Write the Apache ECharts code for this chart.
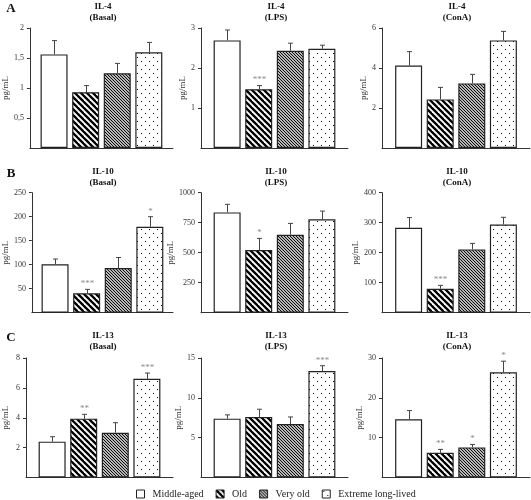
<!DOCTYPE html>
<html><head><meta charset="utf-8">
<script src="https://cdn.jsdelivr.net/npm/echarts@6/dist/echarts.min.js"></script>
<style>html,body{margin:0;padding:0;background:#fff}#c{width:531px;height:500px}</style>
</head><body><div id="c"></div>
<script>
// ---- data ----
const groups = ['Middle-aged', 'Old', 'Very old', 'Extreme long-lived'];
const panelLetters = ['A', 'B', 'C'];
const cytokines = ['IL-4', 'IL-4', 'IL-4', 'IL-10', 'IL-10', 'IL-10', 'IL-13', 'IL-13', 'IL-13'];
const conditions = ['(Basal)', '(LPS)', '(ConA)', '(Basal)', '(LPS)', '(ConA)', '(Basal)', '(LPS)', '(ConA)'];
const yMax = [2, 3, 6, 250, 1000, 400, 8, 15, 30];
const yInterval = [0.5, 1, 2, 50, 250, 100, 2, 5, 10];
const means = [
  [1.56, 0.93, 1.245, 1.595],
  [2.69, 1.47, 2.43, 2.48],
  [4.12, 2.43, 3.23, 5.38],
  [100.7, 40.3, 93, 179],
  [836, 522, 650, 778],
  [283, 80, 211, 294],
  [2.40, 3.94, 3.0, 6.61],
  [7.39, 7.6, 6.72, 13.36],
  [14.6, 6.2, 7.56, 26.4]
];
const errors = [
  [0.23, 0.11, 0.165, 0.165],
  [0.26, 0.09, 0.19, 0.09],
  [0.70, 0.60, 0.45, 0.45],
  [11.1, 8.3, 22, 21],
  [67, 97, 94, 69],
  [34, 11, 20, 24],
  [0.33, 0.29, 0.67, 0.38],
  [0.47, 0.97, 0.88, 0.67],
  [2.2, 0.86, 0.74, 2.8]
];
const signif = [
  ['', '', '', ''],
  ['', '***', '', ''],
  ['', '', '', ''],
  ['', '***', '', '*'],
  ['', '*', '', ''],
  ['', '***', '', ''],
  ['', '**', '', '***'],
  ['', '', '', '***'],
  ['', '**', '*', '*']
];

// ---- layout / style ----
const FONT = '"Liberation Serif", "DejaVu Serif", serif';
const colLeft = [26, 201, 382], colWidth = [147, 147, 148];
const rowTop = [28, 192.7, 358], rowH = [120, 120, 119.5];
const titleCx = [103, 276, 457], titleCy = [7, 172, 336];
const nameGaps = [15.5, 7, 14];
const BAR_W = 27, GAP_PCT = 0.17, STEP = BAR_W * (1 + GAP_PCT);

function makePattern(kind) {
  if (kind === 0) return '#ffffff';
  const c = document.createElement('canvas');
  let n;
  if (kind === 1) n = 6; else if (kind === 2) n = 3; else n = 8;
  c.width = n; c.height = n;
  const g = c.getContext('2d');
  g.fillStyle = '#fff'; g.fillRect(0, 0, n, n);
  if (kind === 1 || kind === 2) {
    g.strokeStyle = '#000';
    g.lineWidth = kind === 1 ? 2.3 : 1.1;
    for (const o of [-n, 0, n]) {
      g.beginPath(); g.moveTo(o - 1, -1); g.lineTo(o + n + 1, n + 1); g.stroke();
    }
  } else {
    g.fillStyle = '#000';
    g.fillRect(1, 1, 1, 1);
    g.fillRect(5, 5, 1, 1);
  }
  return { image: c, repeat: 'repeat' };
}
const fills = [0, 1, 2, 3].map(makePattern);

const grids = [], xAxes = [], yAxes = [], series = [], graphics = [];
for (let p = 0; p < 9; p++) {
  const row = Math.floor(p / 3), col = p % 3;
  grids.push({ left: colLeft[col], top: rowTop[row], width: colWidth[col], height: rowH[row] });
  xAxes.push({
    type: 'category', gridIndex: p, data: [cytokines[p] + ' ' + conditions[p]],
    axisLine: { lineStyle: { color: '#333', width: 1 } },
    axisTick: { show: false }, axisLabel: { show: false }
  });
  yAxes.push({
    type: 'value', gridIndex: p, min: 0, max: yMax[p], interval: yInterval[p],
    name: 'pg/mL', nameLocation: 'middle', nameGap: nameGaps[col],
    nameTextStyle: { fontFamily: FONT, fontSize: 9, color: '#333' },
    axisLine: { show: true, lineStyle: { color: '#333', width: 1 } },
    axisTick: { show: true, length: 3, lineStyle: { color: '#333' } },
    axisLabel: {
      fontFamily: FONT, fontSize: 8, color: '#333', margin: 6, showMinLabel: false,
      formatter: v => String(v).replace('.', ',')
    },
    splitLine: { show: false }
  });
  for (let g = 0; g < 4; g++) {
    series.push({
      type: 'bar', name: groups[g], xAxisIndex: p, yAxisIndex: p,
      data: [means[p][g]], barWidth: BAR_W, barGap: (GAP_PCT * 100) + '%',
      itemStyle: { color: fills[g], borderColor: '#222', borderWidth: 1.2 },
      silent: true, animation: false
    });
  }
  const sig = signif[p];
  series.push({
    type: 'custom', xAxisIndex: p, yAxisIndex: p, z: 5, silent: true, animation: false,
    encode: { x: 0, y: [1, 2] },
    data: means[p].map((m, g) => [0, m, m + errors[p][g], g]),
    renderItem: (params, api) => {
      const g = api.value(3);
      const top = api.coord([0, api.value(2)]);
      const base = api.coord([0, api.value(1)]);
      const x = Math.round(top[0] + (g - 1.5) * STEP) + 0.5;
      const children = [
        { type: 'line', shape: { x1: x, y1: base[1], x2: x, y2: top[1] }, style: { stroke: '#444', lineWidth: 1 } },
        { type: 'line', shape: { x1: x - 2.5, y1: top[1], x2: x + 2.5, y2: top[1] }, style: { stroke: '#444', lineWidth: 1 } }
      ];
      const s = sig[g];
      if (s) children.push({
        type: 'text',
        style: { text: s, x: x, y: top[1] - 1, align: 'center', verticalAlign: 'bottom', fill: '#888', fontSize: 9, fontFamily: FONT }
      });
      return { type: 'group', children };
    }
  });
  graphics.push({
    type: 'text', x: titleCx[col], y: titleCy[row] - 5.5, silent: true,
    style: {
      text: cytokines[p] + '\n' + conditions[p], align: 'center', verticalAlign: 'top',
      fontFamily: FONT, fontSize: 9, fontWeight: 'bold', lineHeight: 11, fill: '#111'
    }
  });
}
for (let r = 0; r < 3; r++) {
  graphics.push({
    type: 'text', x: 11, y: titleCy[r] + 1.5, silent: true,
    style: { text: panelLetters[r], align: 'center', verticalAlign: 'middle', fontFamily: FONT, fontSize: 13, fontWeight: 'bold', fill: '#111' }
  });
}

const chart = echarts.init(document.getElementById('c'), null, { renderer: 'canvas' });
chart.setOption({
  animation: false,
  backgroundColor: '#fff',
  grid: grids, xAxis: xAxes, yAxis: yAxes, series: series,
  graphic: graphics,
  legend: {
    data: groups, left: 136, top: 489, padding: 0, itemWidth: 8, itemHeight: 8, itemGap: 12,
    icon: 'rect', selectedMode: false,
    itemStyle: { borderColor: '#222', borderWidth: 1 },
    textStyle: { fontFamily: FONT, fontSize: 10, color: '#222', padding: [0, 0, 0, 3] }
  }
});
</script></body></html>
